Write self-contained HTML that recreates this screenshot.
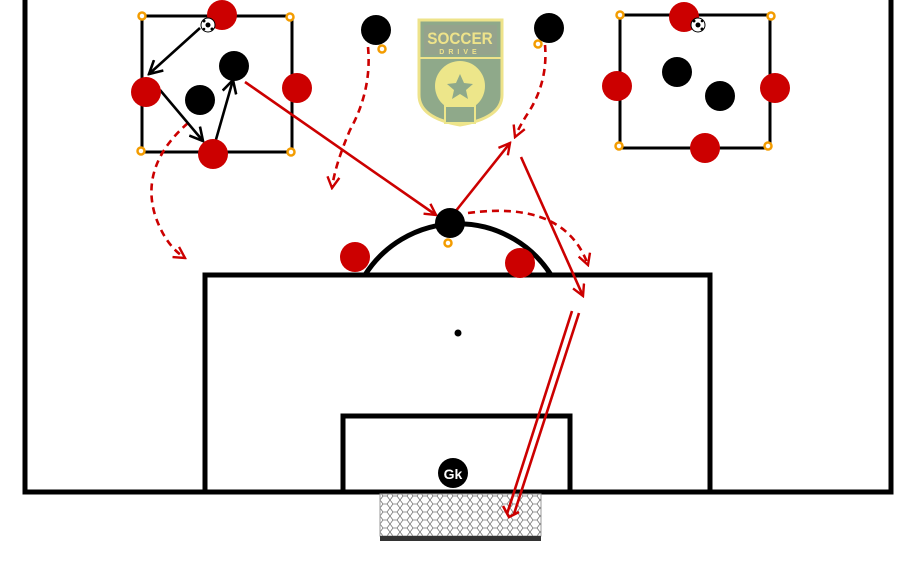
<!DOCTYPE html>
<html><head><meta charset="utf-8"><style>
html,body{margin:0;padding:0;background:#fff;width:918px;height:574px;overflow:hidden}
</style></head><body>
<svg width="918" height="574" viewBox="0 0 918 574" xmlns="http://www.w3.org/2000/svg">
<defs>
<marker id="ar" viewBox="0 0 14 14" refX="12" refY="7" markerWidth="14" markerHeight="14" markerUnits="userSpaceOnUse" orient="auto">
<path d="M1,1 L12,7 L1,13" fill="none" stroke="#c00" stroke-width="2.4"/></marker>
<marker id="ak" viewBox="0 0 16 16" refX="14" refY="8" markerWidth="16" markerHeight="16" markerUnits="userSpaceOnUse" orient="auto">
<path d="M1,1 L14,8 L1,15" fill="none" stroke="#000" stroke-width="2.6"/></marker>
<pattern id="net" width="10" height="8" patternUnits="userSpaceOnUse">
<path d="M0,4 L3,0 L7,0 L10,4 L7,8 L3,8 Z" fill="none" stroke="#777" stroke-width="0.8"/></pattern>
</defs>
<g fill="none" stroke="#000" stroke-width="5">
<path d="M25,0 V492 H891 V0"/>
<rect x="205" y="275" width="505" height="217"/>
<rect x="343" y="416" width="227" height="76"/>
<path d="M365,275 A110,110 0 0 1 551,275"/>
</g>
<circle cx="458" cy="333" r="3.5" fill="#000"/>
<rect x="380" y="494" width="161" height="42" fill="url(#net)" stroke="#999" stroke-width="1"/>
<rect x="380" y="536" width="161" height="5" fill="#333"/>
<rect x="142" y="16" width="150" height="136" fill="none" stroke="#000" stroke-width="3"/>
<rect x="620" y="15" width="150" height="133" fill="none" stroke="#000" stroke-width="3"/>
<g fill="#fff" stroke="#f39c00" stroke-width="2.5">
<circle cx="142" cy="16" r="3.5"/><circle cx="290" cy="17" r="3.5"/><circle cx="141" cy="151" r="3.5"/><circle cx="291" cy="152" r="3.5"/>
<circle cx="620" cy="15" r="3.5"/><circle cx="771" cy="16" r="3.5"/><circle cx="619" cy="146" r="3.5"/><circle cx="768" cy="146" r="3.5"/>
<circle cx="382" cy="49" r="3.5"/><circle cx="538" cy="44" r="3.5"/><circle cx="448" cy="243" r="3.5"/>
</g>
<g>
<path d="M419,20 H502 V95 Q502,118 460,125 Q419,118 419,95 Z" fill="#8fa98a" stroke="#eee38a" stroke-width="3"/>
<rect x="424" y="25" width="73" height="30" fill="#95a38c"/>
<line x1="420" y1="58" x2="501" y2="58" stroke="#eee38a" stroke-width="2"/>
<text x="460" y="44" font-family="Liberation Sans, sans-serif" font-weight="bold" font-size="17" fill="#eee38a" text-anchor="middle" transform="translate(460 0) scale(0.9 1) translate(-460 0)">SOCCER</text>
<text x="460" y="54" font-family="Liberation Sans, sans-serif" font-weight="bold" font-size="7" letter-spacing="4" fill="#eee38a" text-anchor="middle">DRIVE</text>
<circle cx="460" cy="86" r="25" fill="#ede68a"/>
<path d="M460,74 L464,83 L473,84 L466,90 L468,99 L460,94 L452,99 L454,90 L447,84 L456,83 Z" fill="#8fa98a"/>
<rect x="445" y="106" width="30" height="17" fill="#8fa98a" stroke="#ede68a" stroke-width="2"/>
</g>
<g fill="none" stroke="#c00" stroke-width="2.6" stroke-dasharray="7,5">
<path d="M188,123 Q140,165 155,215 Q165,245 185,258" marker-end="url(#ar)"/>
<path d="M368,47 Q372,90 350,130 Q335,165 332,188" marker-end="url(#ar)"/>
<path d="M545,45 Q548,80 530,110 Q520,125 515,137" marker-end="url(#ar)"/>
<path d="M468,213 Q565,200 588,265" marker-end="url(#ar)"/>
</g>
<g fill="none" stroke="#c00" stroke-width="2.6">
<line x1="245" y1="82" x2="436" y2="215" marker-end="url(#ar)"/>
<line x1="455" y1="212" x2="510" y2="143" marker-end="url(#ar)"/>
<line x1="521" y1="157" x2="583" y2="296" marker-end="url(#ar)"/>
<line x1="572" y1="311" x2="507" y2="514"/>
<line x1="579" y1="313" x2="514" y2="514"/>
<path d="M503,506 L509,517 L519,512"/>
</g>
<g fill="none" stroke="#000" stroke-width="2.6">
<line x1="200" y1="28" x2="149" y2="74" marker-end="url(#ak)"/>
<line x1="160" y1="90" x2="203" y2="141" marker-end="url(#ak)"/>
<line x1="215" y1="143" x2="233" y2="80" marker-end="url(#ak)"/>
</g>
<g fill="#c00">
<circle cx="222" cy="15" r="15"/><circle cx="146" cy="92" r="15"/><circle cx="297" cy="88" r="15"/><circle cx="213" cy="154" r="15"/>
<circle cx="684" cy="17" r="15"/><circle cx="617" cy="86" r="15"/><circle cx="775" cy="88" r="15"/><circle cx="705" cy="148" r="15"/>
<circle cx="355" cy="257" r="15"/><circle cx="520" cy="263" r="15"/>
</g>
<g fill="#000">
<circle cx="234" cy="66" r="15"/><circle cx="200" cy="100" r="15"/>
<circle cx="677" cy="72" r="15"/><circle cx="720" cy="96" r="15"/>
<circle cx="376" cy="30" r="15"/><circle cx="549" cy="28" r="15"/>
<circle cx="450" cy="223" r="15"/>
<circle cx="453" cy="473" r="15"/>
</g>
<text x="453" y="479" font-family="Liberation Sans, sans-serif" font-weight="bold" font-size="14" fill="#fff" text-anchor="middle">Gk</text>
<g>
<circle cx="208" cy="25" r="7" fill="#fff" stroke="#000" stroke-width="1"/>
<circle cx="208" cy="25" r="2.5" fill="#000"/><circle cx="204" cy="21" r="1.5" fill="#000"/><circle cx="212" cy="29" r="1.5" fill="#000"/><circle cx="204" cy="29" r="1.3" fill="#000"/>
<circle cx="698" cy="25" r="7" fill="#fff" stroke="#000" stroke-width="1"/>
<circle cx="698" cy="25" r="2.5" fill="#000"/><circle cx="694" cy="21" r="1.5" fill="#000"/><circle cx="702" cy="29" r="1.5" fill="#000"/><circle cx="702" cy="21" r="1.3" fill="#000"/>
</g>
</svg>
</body></html>
